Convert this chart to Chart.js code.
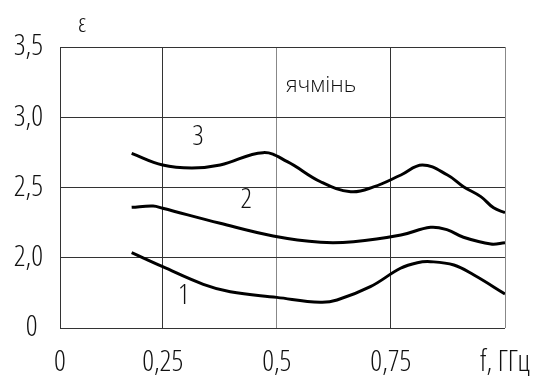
<!DOCTYPE html>
<html><head><meta charset="utf-8">
<script src="https://cdn.jsdelivr.net/npm/chart.js@4.4.0/dist/chart.umd.min.js"></script>
<style>html,body{margin:0;padding:0;background:#fff;}#wrap{width:537px;height:376px;}</style>
</head><body><div id="wrap"><canvas id="c" width="537" height="376"></canvas></div>
<script>
const FONT = '"Open Sans","DejaVu Sans Condensed",sans-serif';
const FW = '300 condensed';
const xTicks = [0.025, 0.25, 0.5, 0.75, 1.0];
const xTickLabels = ['0', '0,25', '0,5', '0,75', 'f, ГГц'];
const yTicks = [1.5, 2.0, 2.5, 3.0, 3.5];
const yTickLabels = ['0 ', '2,0', '2,5', '3,0', '3,5'];

const curve3X = [0.182, 0.250, 0.314, 0.376, 0.470, 0.523, 0.596, 0.662, 0.712, 0.772, 0.819, 0.874, 0.909, 0.947, 0.975, 1.0];
const curve3Y = [2.743, 2.660, 2.639, 2.660, 2.748, 2.684, 2.541, 2.470, 2.504, 2.589, 2.660, 2.589, 2.506, 2.435, 2.355, 2.321];
const curve2X = [0.182, 0.229, 0.250, 0.376, 0.492, 0.596, 0.668, 0.772, 0.837, 0.874, 0.909, 0.969, 1.0];
const curve2Y = [2.359, 2.368, 2.352, 2.245, 2.155, 2.110, 2.114, 2.162, 2.217, 2.198, 2.146, 2.098, 2.107];
const curve1X = [0.182, 0.250, 0.339, 0.398, 0.500, 0.595, 0.632, 0.705, 0.771, 0.808, 0.837, 0.888, 0.932, 1.0];
const curve1Y = [2.036, 1.936, 1.811, 1.758, 1.718, 1.683, 1.699, 1.794, 1.925, 1.965, 1.972, 1.948, 1.877, 1.742];

const curveLabels = ['3', '2', '1'];
const curveLabelX = [0.327, 0.433, 0.296];
const curveLabelY = [2.862, 2.411, 1.728];
const noteText = 'ячмінь';
const noteX = 0.597, noteY = 3.222;
const yTitle = 'ε';

function pts(xs, ys){ return xs.map((x,i)=>({x:x, y:ys[i]})); }

const textPlugin = {
  id:'texts',
  afterDatasetsDraw(chart){
    const {ctx, scales:{x, y}, chartArea} = chart;
    ctx.save();
    ctx.fillStyle = '#111';
    ctx.textAlign = 'center';
    ctx.textBaseline = 'middle';
    ctx.font = FW + ' 28px ' + FONT;
    curveLabels.forEach((t,i)=>{
      ctx.fillText(t, x.getPixelForValue(curveLabelX[i]), y.getPixelForValue(curveLabelY[i]));
    });
    ctx.font = '300 22px ' + FONT;
    ctx.fillText(noteText, x.getPixelForValue(noteX), y.getPixelForValue(noteY));
    ctx.font = FW + ' 26px ' + FONT;
    ctx.fillText(yTitle, chartArea.left + 22, chartArea.top - 22);
    ctx.restore();
  }
};

const ds = (xs, ys) => ({data: pts(xs, ys), borderColor:'#000', borderWidth:3, pointRadius:0, tension:0.4, fill:false});

new Chart(document.getElementById('c'), {
  type:'line',
  data:{datasets:[ds(curve3X, curve3Y), ds(curve2X, curve2Y), ds(curve1X, curve1Y)]},
  options:{
    responsive:false, animation:false,
    layout:{padding:{top:47, right:32, left:0, bottom:0}},
    plugins:{legend:{display:false}, tooltip:{enabled:false}},
    scales:{
      x:{type:'linear', min:0.025, max:1.0,
        afterBuildTicks(s){ s.ticks = xTicks.map(v=>({value:v})); },
        afterFit(s){ s.height = 48; s.paddingLeft = 0; s.paddingRight = 0; },
        border:{display:false},
        grid:{color:(c)=> (c.tick && (c.tick.value===0.5 || c.tick.value===1.0)) ? '#888' : '#333', lineWidth:1, drawTicks:false},
        ticks:{autoSkip:false, maxRotation:0, padding:17, color:'#111', font:{family:FONT, size:29, weight:FW},
          callback:(v,i)=>xTickLabels[i]}
      },
      y:{type:'linear', min:1.5, max:3.5,
        afterBuildTicks(s){ s.ticks = yTicks.map(v=>({value:v})); },
        afterFit(s){ s.width = 60; s.paddingTop = 0; s.paddingBottom = 0; },
        border:{display:false},
        grid:{color:'#333', lineWidth:1, drawTicks:false},
        ticks:{autoSkip:false, padding:17, color:'#111', font:{family:FONT, size:29, weight:FW},
          callback:(v,i)=>yTickLabels[i]}
      }
    }
  },
  plugins:[textPlugin]
});
</script></body></html>
